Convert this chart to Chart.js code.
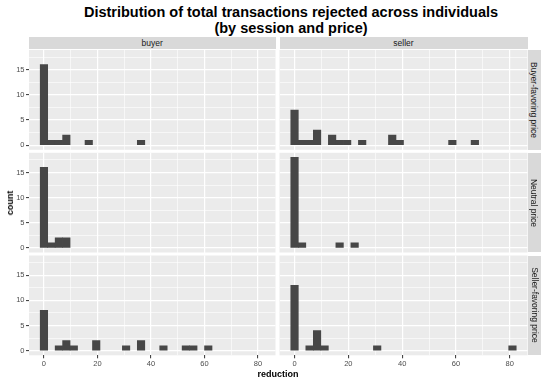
<!DOCTYPE html>
<html>
<head>
<meta charset="utf-8">
<script src="https://cdn.jsdelivr.net/npm/chart.js@4/dist/chart.umd.min.js"></script>
<style>
  body { margin: 0; background: #ffffff; }
  #wrap { position: relative; width: 550px; height: 382px; overflow: hidden; font-family: "Liberation Sans", Arial, sans-serif; background:#fff; }
  #wrap canvas { position: absolute; left: 0; top: 0; }
  .title { position: absolute; left: 0; width: 582px; text-align: center; font-weight: bold; font-size: 14.5px; color: #000; white-space: nowrap; line-height: 16px; }
  .strip { position: absolute; background: #D9D9D9; color: #1A1A1A; font-size: 8.5px; display: flex; align-items: center; justify-content: center; white-space: nowrap; }
  .vtext { transform: rotate(90deg); white-space: nowrap; }
  .axt { position: absolute; font-weight: bold; font-size: 9px; color: #000; white-space: nowrap; }
</style>
</head>
<body>
<div id="wrap">
  <div class="title" style="top:4px;">Distribution of total transactions rejected across individuals</div>
  <div class="title" style="top:20px;">(by session and price)</div>
</div>
<script>
// ---- data ----
const sessions = ["buyer", "seller"];
const priceConditions = ["Buyer-favoring price", "Neutral price", "Seller-favoring price"];
const binCenters = [0, 2.79, 5.59, 8.38, 11.17, 13.97, 16.76, 19.55, 22.34, 25.14,
                    27.93, 30.72, 33.52, 36.31, 39.10, 41.90, 44.69, 47.48, 50.28, 53.07,
                    55.86, 58.66, 61.45, 64.24, 67.03, 69.83, 72.62, 75.41, 78.21, 81.00];
const buyerBuyerFav   = [16,1,1,2,0,0,1,0,0,0, 0,0,0,1,0,0,0,0,0,0, 0,0,0,0,0,0,0,0,0,0];
const sellerBuyerFav  = [7,1,1,3,0,2,1,1,0,1, 0,0,0,2,1,0,0,0,0,0, 0,1,0,0,1,0,0,0,0,0];
const buyerNeutral    = [16,1,2,2,0,0,0,0,0,0, 0,0,0,0,0,0,0,0,0,0, 0,0,0,0,0,0,0,0,0,0];
const sellerNeutral   = [18,1,0,0,0,0,1,0,1,0, 0,0,0,0,0,0,0,0,0,0, 0,0,0,0,0,0,0,0,0,0];
const buyerSellerFav  = [8,0,1,2,1,0,0,2,0,0, 0,1,0,2,0,0,1,0,0,1, 1,0,1,0,0,0,0,0,0,0];
const sellerSellerFav = [13,0,1,4,1,0,0,0,0,0, 0,1,0,0,0,0,0,0,0,0, 0,0,0,0,0,0,0,0,0,1];
const panelCounts = [
  [buyerBuyerFav, sellerBuyerFav],
  [buyerNeutral, sellerNeutral],
  [buyerSellerFav, sellerSellerFav]
];
const xMajorTicks = [0, 20, 40, 60, 80];
const xMinorTicks = [10, 30, 50, 70];
const yMajorTicks = [0, 5, 10, 15];
const yMinorTicks = [2.5, 7.5, 12.5, 17.5];
const xLimits = [-5.59, 86.59];
const yLimits = [-0.9, 18.9];

// ---- layout ----
const W = 550, H = 382;
const cols = [[29, 275.5], [279.5, 527.5]];
const rows = [[50, 149.8], [152.8, 252.5], [255.5, 355.3]];
const FONT = "'Liberation Sans', Arial, sans-serif";

const wrap = document.getElementById('wrap');

const bgPlugin = {
  id: 'panelBg',
  beforeDraw(chart) {
    const a = chart.chartArea, ctx = chart.ctx;
    ctx.save();
    ctx.fillStyle = '#EBEBEB';
    ctx.fillRect(a.left, a.top, a.right - a.left, a.bottom - a.top);
    ctx.restore();
  }
};

function makeScale(axis, showLabels, size, limits, majors, minors) {
  const all = majors.concat(minors).sort((a, b) => a - b);
  return {
    type: 'linear',
    min: limits[0], max: limits[1],
    offset: false,
    afterFit: s => { if (axis === 'x') s.height = size; else s.width = size; },
    afterBuildTicks: s => { s.ticks = all.map(v => ({ value: v })); },
    ticks: {
      display: showLabels, autoSkip: false, maxRotation: 0, minRotation: 0,
      padding: axis === 'x' ? 1 : 1.5,
      color: '#4D4D4D',
      font: { size: 7.5, family: FONT },
      callback: v => (majors.includes(v) ? String(v) : '')
    },
    grid: {
      display: true, offset: false,
      color: '#FFFFFF',
      lineWidth: ctx => (ctx.tick && majors.includes(ctx.tick.value) ? 1.2 : 0.6),
      drawTicks: showLabels, tickLength: 3, tickWidth: 1,
      tickColor: ctx => (ctx.tick && majors.includes(ctx.tick.value) ? '#333333' : 'rgba(0,0,0,0)')
    },
    border: { display: false }
  };
}

rows.forEach((r, ri) => {
  cols.forEach((c, ci) => {
    const cv = document.createElement('canvas');
    cv.width = W; cv.height = H;
    cv.style.width = W + 'px'; cv.style.height = H + 'px';
    wrap.appendChild(cv);
    const counts = panelCounts[ri][ci];
    const showX = ri === rows.length - 1;
    const showY = ci === 0;
    const xSize = showX ? (H - r[1]) : 0;
    const ySize = showY ? c[0] : 0;
    new Chart(cv, {
      type: 'bar',
      data: {
        datasets: [{
          data: binCenters.map((x, i) => ({ x: x, y: counts[i] })),
          backgroundColor: '#474747',
          borderWidth: 0,
          inflateAmount: ctx => (ctx.raw && ctx.raw.y === 0 ? 0 : 0.33),
          barPercentage: 1.0,
          categoryPercentage: 1.0
        }]
      },
      options: {
        responsive: false, animation: false, devicePixelRatio: 1, events: [],
        layout: { padding: { left: c[0] - ySize, right: W - c[1], top: r[0], bottom: H - r[1] - xSize } },
        plugins: { legend: { display: false }, tooltip: { enabled: false }, title: { display: false } },
        scales: {
          x: makeScale('x', showX, xSize, xLimits, xMajorTicks, xMinorTicks),
          y: makeScale('y', showY, ySize, yLimits, yMajorTicks, yMinorTicks)
        }
      },
      plugins: [bgPlugin]
    });
  });
});

// strips
cols.forEach((c, ci) => {
  const d = document.createElement('div');
  d.className = 'strip';
  d.style.left = c[0] + 'px'; d.style.top = '37.3px';
  d.style.width = (c[1] - c[0]) + 'px'; d.style.height = '12.2px';
  d.textContent = sessions[ci];
  wrap.appendChild(d);
});
rows.forEach((r, ri) => {
  const d = document.createElement('div');
  d.className = 'strip';
  d.style.left = '528px'; d.style.top = r[0] + 'px';
  d.style.width = '12.7px'; d.style.height = (r[1] - r[0]) + 'px';
  const s = document.createElement('span');
  s.className = 'vtext';
  s.textContent = priceConditions[ri];
  d.appendChild(s);
  wrap.appendChild(d);
});

// axis titles
const yt = document.createElement('div');
yt.className = 'axt';
yt.textContent = 'count';
yt.style.left = '10px'; yt.style.top = '202.5px';
yt.style.transform = 'translate(-50%,-50%) rotate(-90deg)';
wrap.appendChild(yt);
const xt = document.createElement('div');
xt.className = 'axt';
xt.textContent = 'reduction';
xt.style.left = '278px'; xt.style.top = '374px';
xt.style.transform = 'translate(-50%,-50%)';
wrap.appendChild(xt);
</script>
</body>
</html>
